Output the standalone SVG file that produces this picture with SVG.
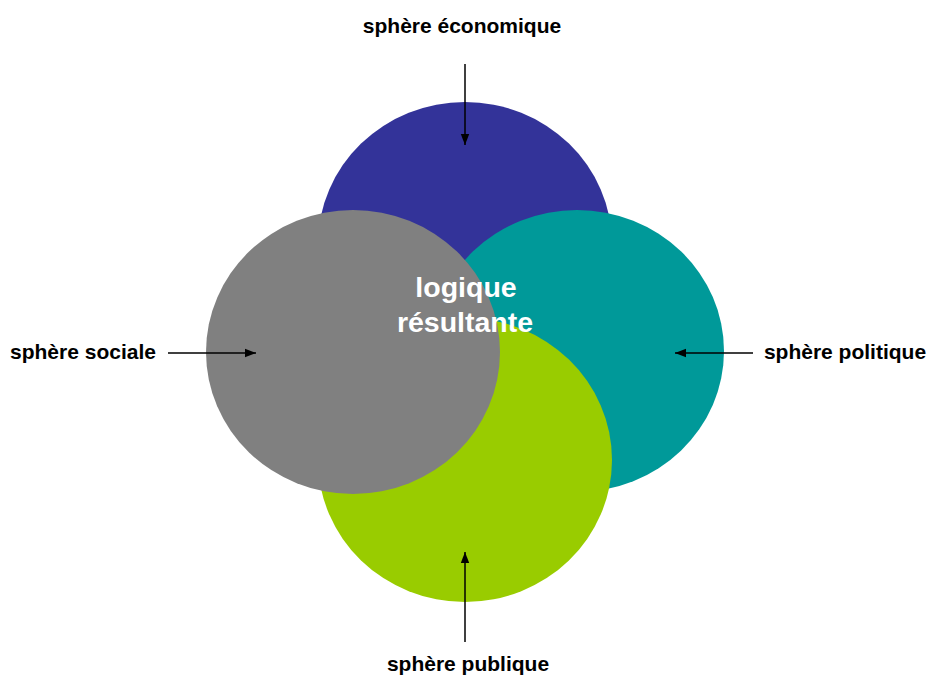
<svg xmlns="http://www.w3.org/2000/svg" width="927" height="677" viewBox="0 0 927 677">
<style>
.lbl{font-family:"Liberation Sans",Arial,sans-serif;font-weight:bold;font-size:21px;fill:#000;text-anchor:middle}
.ctr{font-family:"Liberation Sans",Arial,sans-serif;font-weight:bold;font-size:28.5px;fill:#fff;text-anchor:middle}
.arr{stroke:#000;stroke-width:1.5;fill:none;marker-end:url(#ah)}
</style>
<defs>
<marker id="ah" markerUnits="userSpaceOnUse" markerWidth="12" markerHeight="10" refX="11" refY="5" orient="auto">
<path d="M0,0.8 L11,5 L0,9.2 Z" fill="#000"/>
</marker>
</defs>
<rect width="927" height="677" fill="#fff"/>
<g id="economique"><ellipse cx="465" cy="244" rx="147" ry="142" fill="#333399"/></g>
<g id="politique"><ellipse cx="577" cy="351" rx="147" ry="141" fill="#009999"/></g>
<g id="publique"><ellipse cx="465" cy="460" rx="147" ry="142" fill="#99CC00"/></g>
<g id="sociale"><ellipse cx="353" cy="352" rx="147" ry="142" fill="#808080"/></g>
<g id="resultante"><text class="ctr" x="466" y="297">logique</text><text class="ctr" x="465" y="332">résultante</text></g>
<g id="labels">
<text class="lbl" x="462" y="33">sphère économique</text>
<text class="lbl" x="83" y="359">sphère sociale</text>
<text class="lbl" x="845" y="359">sphère politique</text>
<text class="lbl" x="468" y="671">sphère publique</text>
</g>
<g id="connectors">
<line class="arr" x1="465" y1="64" x2="465" y2="145"/>
<line class="arr" x1="168" y1="353" x2="256" y2="353"/>
<line class="arr" x1="753" y1="353" x2="675" y2="353"/>
<line class="arr" x1="465" y1="642" x2="465" y2="552"/>
</g>
</svg>
